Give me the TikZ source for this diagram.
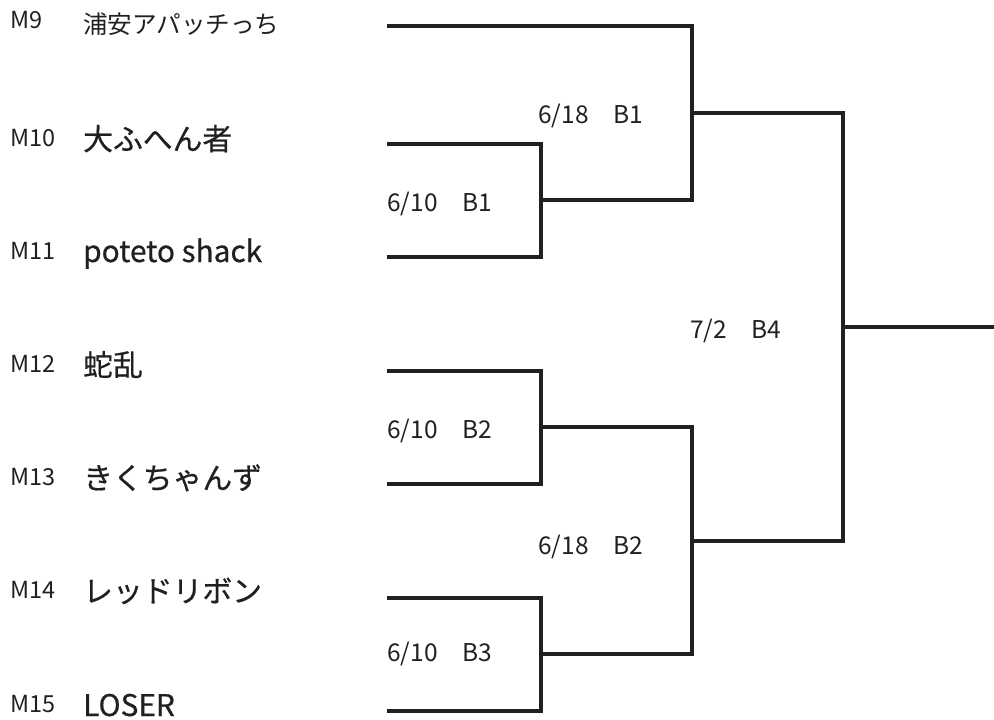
\documentclass[tikz,border=0pt]{standalone}
\usepackage{fontspec}
\setmainfont{Noto Sans CJK JP}
\newfontfamily\teamfont[FakeBold=0.6]{Noto Sans CJK JP}
\definecolor{ink}{RGB}{35,31,32}
\begin{document}
\begin{tikzpicture}[x=1pt,y=-1pt,
  bline/.style={draw=ink,line width=3.3pt,line join=miter},
  mlabel/.style={anchor=base west,inner sep=0pt,text=ink,font=\fontsize{23.5}{24}\selectfont},
  team/.style={anchor=base west,inner sep=0pt,text=ink,font=\teamfont\fontsize{29.8}{30}\selectfont},
  teamsmall/.style={anchor=base west,inner sep=0pt,text=ink,font=\fontsize{24.6}{25}\selectfont},
  datelabel/.style={anchor=base west,inner sep=0pt,text=ink,font=\fontsize{24.5}{25}\selectfont}]
\useasboundingbox (0,0) rectangle (994,720);
% M labels
\node[mlabel] (m9l)  at (10,28)  {M9};
\node[mlabel] (m10l) at (10,146) {M10};
\node[mlabel] (m11l) at (10,259) {M11};
\node[mlabel] (m12l) at (10,372) {M12};
\node[mlabel] (m13l) at (10,485) {M13};
\node[mlabel] (m14l) at (10,598) {M14};
\node[mlabel] (m15l) at (10,712) {M15};
% team names
\node[teamsmall] (t9) at (83,33) {浦安アパッチっち};
\node[team] (t10) at (83,150) {大ふへん者};
\node[team] (t11) at (83,262) {poteto shack};
\node[team] (t12) at (83,376) {蛇乱};
\node[team] (t13) at (83,489) {きくちゃんず};
\node[team] (t14) at (83,602) {レッドリボン};
\node[team] (t15) at (83,716) {LOSER};
% line starts
\coordinate (s9)  at (387,26);
\coordinate (s10) at (387,144);
\coordinate (s11) at (387,257);
\coordinate (s12) at (387,371);
\coordinate (s13) at (387,484);
\coordinate (s14) at (387,598);
\coordinate (s15) at (387,711);
% junctions
\coordinate (j1) at (541,200);
\coordinate (j2) at (541,427);
\coordinate (j3) at (541,654);
\coordinate (j4) at (692,113);
\coordinate (j5) at (692,541);
\coordinate (j6) at (843,327);
\coordinate (out) at (994,327);
% bracket
\draw[bline] (s10) -| (j1) |- (s11);
\draw[bline] (s12) -| (j2) |- (s13);
\draw[bline] (s14) -| (j3) |- (s15);
\draw[bline] (s9) -| (j4) |- (j1);
\draw[bline] (j2) -| (j5) |- (j3);
\draw[bline] (j4) -| (j6) |- (j5);
\draw[bline] (j6) -- (out);
% date labels
\node[datelabel] (d1) at (538,123) {6/18　B1};
\node[datelabel] (d2) at (387,211) {6/10　B1};
\node[datelabel] (d3) at (690,338) {7/2　B4};
\node[datelabel] (d4) at (387,438) {6/10　B2};
\node[datelabel] (d5) at (538,554) {6/18　B2};
\node[datelabel] (d6) at (387,661) {6/10　B3};
\end{tikzpicture}
\end{document}
